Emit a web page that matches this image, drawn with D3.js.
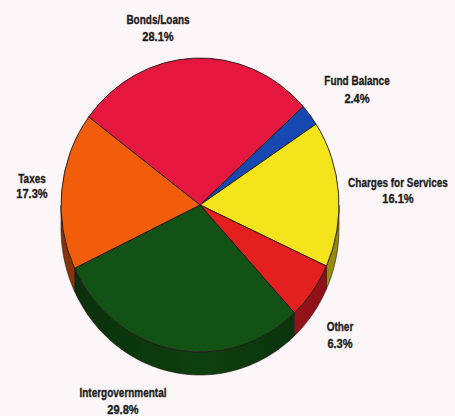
<!DOCTYPE html>
<html>
<head>
<meta charset="utf-8">
<script src="https://cdn.jsdelivr.net/npm/d3@7"></script>
<style>
  html, body { margin: 0; padding: 0; background: #fcf6f8; }
  svg { display: block; }
  text { font-family: "Liberation Sans", Arial, sans-serif; font-weight: bold; fill: #1b1b1b; stroke: #1b1b1b; stroke-width: 0.35; }
</style>
</head>
<body>
<svg id="chart" width="455" height="416"></svg>
<script>
// Revenue sources, clockwise from Bonds/Loans
const categories = ["Bonds/Loans", "Fund Balance", "Charges for Services", "Other", "Intergovernmental", "Taxes"];
const shares = [28.1, 2.4, 16.1, 6.3, 29.8, 17.3];
const valueLabels = ["28.1%", "2.4%", "16.1%", "6.3%", "29.8%", "17.3%"];

// Slice fills (top face) and darker fills for the visible rim
const topColors = ["#e6173f", "#1648b2", "#f4e41c", "#e41f1f", "#125214", "#f25d0c"];
const sideColors = ["#a80f2c", "#0e3380", "#b8a80f", "#a8141c", "#0c3a0e", "#a93e08"];

// Label anchors: centre x, baselines of name and value lines
const labelLayout = {
  "Bonds/Loans":          { x: 158, y1: 24,  y2: 41 },
  "Fund Balance":         { x: 357, y1: 85,  y2: 103 },
  "Charges for Services": { x: 398, y1: 187, y2: 203 },
  "Other":                { x: 340, y1: 331, y2: 348 },
  "Intergovernmental":    { x: 123, y1: 397, y2: 414 },
  "Taxes":                { x: 32,  y1: 183, y2: 198 }
};

const svg = d3.select("#chart");
const cx = 200, cy = 205, rx = 139, ry = 147, depth = 23;
const startDeg = -53.2;

const data = categories.map((c, i) => ({ name: c, value: shares[i], label: valueLabels[i], i }));
const pie = d3.pie()
  .sort(null)
  .value(d => d.value)
  .startAngle(startDeg * Math.PI / 180)
  .endAngle(startDeg * Math.PI / 180 + 2 * Math.PI);
const arcs = pie(data);

// point on the ellipse rim at angle a (0 = top, clockwise)
const rim = (a, dy = 0) => [cx + rx * Math.sin(a), cy - ry * Math.cos(a) + dy];

// Rim (side wall) of each slice: only the front half, angles between PI/2 and 3PI/2
const sideLine = d3.line();
const sides = svg.append("g");
const defs = svg.append("defs");
arcs.forEach((d, k) => {
  const a0 = d.startAngle, a1 = d.endAngle;
  const segs = [];
  for (let shift = -2 * Math.PI; shift <= 2 * Math.PI; shift += 2 * Math.PI) {
    const s = Math.max(a0 + shift, Math.PI / 2), e = Math.min(a1 + shift, 3 * Math.PI / 2);
    if (e > s) segs.push([s, e]);
  }
  const grad = defs.append("linearGradient")
    .attr("id", "side" + k).attr("gradientUnits", "userSpaceOnUse")
    .attr("x1", cx - rx).attr("x2", cx + rx).attr("y1", 0).attr("y2", 0);
  const base = d3.color(sideColors[k]);
  grad.append("stop").attr("offset", "0").attr("stop-color", base.darker(0.6));
  grad.append("stop").attr("offset", "0.5").attr("stop-color", base.brighter(0.25));
  grad.append("stop").attr("offset", "1").attr("stop-color", base.darker(0.6));
  segs.forEach(([s, e]) => {
    const n = Math.max(2, Math.ceil((e - s) / 0.02));
    const top = d3.range(n + 1).map(j => rim(s + (e - s) * j / n));
    const bottom = d3.range(n + 1).map(j => rim(e - (e - s) * j / n, depth));
    sides.append("path")
      .attr("d", sideLine(top.concat(bottom)) + "Z")
      .attr("fill", `url(#side${k})`)
      .attr("stroke", "#2a1a1a")
      .attr("stroke-width", 0.6)
      .attr("stroke-linejoin", "round");
  });
});

// Top faces: circular arcs squeezed into the ellipse
const arc = d3.arc().innerRadius(0).outerRadius(rx);
svg.append("g")
  .attr("transform", `translate(${cx},${cy}) scale(1,${ry / rx})`)
  .selectAll("path")
  .data(arcs)
  .join("path")
  .attr("d", arc)
  .attr("fill", d => topColors[d.data.i])
  .attr("stroke", "#1e1414")
  .attr("stroke-width", 0.9)
  .attr("stroke-linejoin", "round")
  .attr("vector-effect", "non-scaling-stroke");

// Labels: bold, squeezed horizontally around their anchor
const labels = svg.append("g");
data.forEach(d => {
  const p = labelLayout[d.name];
  [[d.name, p.y1, 0.74], [d.label, p.y2, 0.82]].forEach(([txt, y, f]) => {
    labels.append("text")
      .attr("transform", `translate(${p.x},${y}) scale(${f},1)`)
      .attr("text-anchor", "middle")
      .attr("font-size", 13.5)
      .text(txt);
  });
});
</script>
</body>
</html>
